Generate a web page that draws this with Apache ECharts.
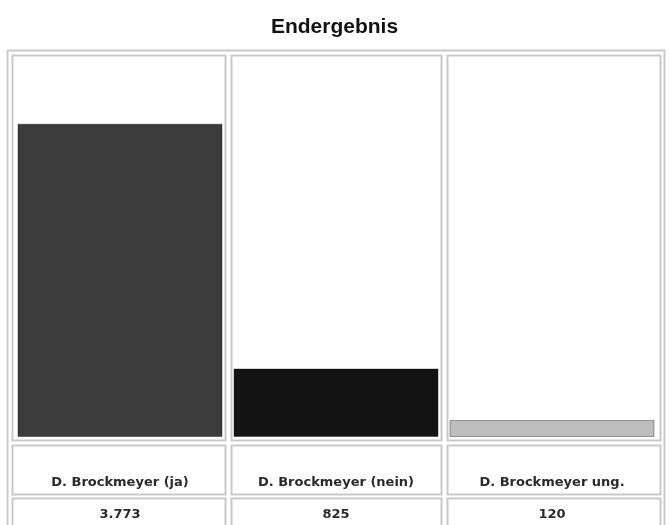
<!DOCTYPE html>
<html>
<head>
<meta charset="utf-8">
<script src="https://cdn.jsdelivr.net/npm/echarts@6/dist/echarts.min.js"></script>
<style>
html,body{margin:0;padding:0;background:#fff;}
#c{width:669px;height:525px;}
</style>
</head>
<body>
<div id="c"></div>
<script>
const title = 'Endergebnis';
const categories = ['D. Brockmeyer (ja)', 'D. Brockmeyer (nein)', 'D. Brockmeyer ung.'];
const values = [3773, 825, 120];
const barColors = ['#3b3b3b', '#131313', '#bdbdbd'];

function fmtDE(n) {
  return String(n).replace(/\B(?=(\d{3})+(?!\d))/g, '.');
}

const lineCol = '#c9c9c9';
function cell(x, y, w, h) {
  return { type: 'rect', silent: true, z: -1,
    shape: { x: x + 0.5, y: y + 0.5, width: w, height: h },
    style: { fill: 'none', stroke: lineCol, lineWidth: 2 } };
}
const colX = [[12, 213], [231, 210], [447, 213]];
const rowY = [[55, 385], [445, 49], [498, 40]];
const cells = [];
colX.forEach(c => rowY.forEach(r => cells.push(cell(c[0], r[0], c[1], r[1]))));
cells.push({ type: 'rect', silent: true, z: -1,
  shape: { x: 7.5, y: 50.5, width: 657, height: 500 },
  style: { fill: 'none', stroke: lineCol, lineWidth: 2 } });

const labelFont = { fontFamily: 'DejaVu Sans, Verdana, sans-serif', fontSize: 13, fontWeight: 'bold', color: '#2a2a2a' };

const chart = echarts.init(document.getElementById('c'));
chart.setOption({
  animation: false,
  backgroundColor: '#fff',
  title: { text: title, left: 'center', top: 12,
    textStyle: { fontFamily: 'Liberation Sans, Arial, sans-serif', fontSize: 21, fontWeight: 'bold', color: '#111' } },
  grid: { left: 12, right: 9, top: 55, bottom: 88 },
  xAxis: [
    { type: 'category', data: categories, position: 'bottom',
      axisLine: { show: false }, axisTick: { show: false }, splitLine: { show: false },
      axisLabel: Object.assign({ margin: 39, interval: 0 }, labelFont) },
    { type: 'category', data: categories, position: 'bottom', offset: 32,
      axisLine: { show: false }, axisTick: { show: false }, splitLine: { show: false },
      axisLabel: Object.assign({ margin: 39, interval: 0, formatter: (v, i) => fmtDE(values[i]) }, labelFont) }
  ],
  yAxis: { type: 'value', min: 0, max: 4600, show: false, splitLine: { show: false } },
  series: [{
    type: 'bar', xAxisIndex: 0, barWidth: 205, barMinHeight: 17,
    data: values.map((v, i) => ({ value: v, itemStyle: { color: barColors[i], borderColor: 'rgba(0,0,0,0.35)', borderWidth: 1 } })),
    label: { show: false }
  }],
  graphic: cells
});
</script>
</body>
</html>
